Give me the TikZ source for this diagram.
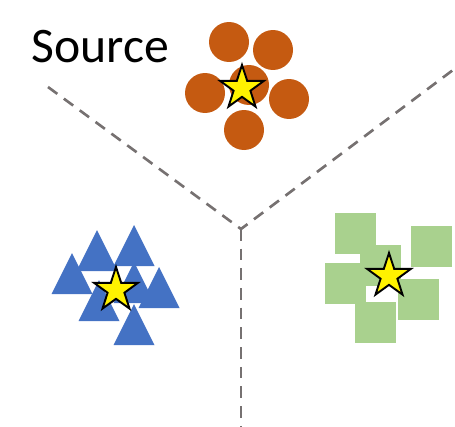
\documentclass[tikz,border=0pt]{standalone}
\usepackage{fontspec}
\setmainfont{Carlito}
\usetikzlibrary{shapes.geometric}
\definecolor{rust}{HTML}{C55A11}
\definecolor{steel}{HTML}{4472C4}
\definecolor{leaf}{HTML}{A9D18E}
\definecolor{border}{HTML}{767171}
\tikzstyle{blob}=[
  circle,
  fill=rust,
  inner sep=0pt,
  minimum size=0.8cm,
]
\tikzstyle{tile}=[
  rectangle,
  fill=leaf,
  inner sep=0pt,
  minimum size=0.82cm,
]
\tikzstyle{peak}=[
  fill=steel,
]
\tikzstyle{centre}=[
  star,
  star points=5,
  star point ratio=2.6,
  fill=yellow,
  draw=black,
  line width=1.1pt,
  inner sep=0pt,
  minimum size=0.92cm,
]
\tikzstyle{split}=[
  color=border,
  line width=1.5pt,
  dash pattern=on 6.6pt off 4.6pt,
]
\begin{document}
\begin{tikzpicture}[x=0.02cm, y=-0.02cm]
  \useasboundingbox (0,0) rectangle (455,426);
  %% label
  \node (source) [anchor=base west, inner sep=0pt, font=\fontsize{28.3}{34}\selectfont] at (31,62) {Source};
  %% borders
  \coordinate (M) at (241,229);
  \coordinate (L) at (48,87);
  \coordinate (R) at (453,70);
  \coordinate (D) at (241,426);
  \draw [split] (L) -- (M) -- (R);
  \draw [split] (M) -- (D);
  %% circles
  \foreach \x/\y [count=\i] in {229/42, 273/50, 205/93, 249/85, 289/99, 244/130}
    \node (c\i) [blob] at (\x,\y) {};
  %% triangles
  \foreach \x/\y [count=\i] in {72/253, 97/230, 134/225, 159/267, 134/262, 99/280, 134/304}
    \fill [peak] (\x,\y) coordinate (t\i) -- ++(20.5,41) -- ++(-41,0) -- cycle;
  %% squares
  \foreach \x/\y [count=\i] in {355/233, 431/246, 380/265, 345/283, 418/299, 375/322}
    \node (s\i) [tile] at (\x,\y) {};
  %% stars
  \node (starc) [centre] at (242,88) {};
  \node (start) [centre] at (116,290) {};
  \node (stars) [centre] at (389,276) {};
\end{tikzpicture}
\end{document}
